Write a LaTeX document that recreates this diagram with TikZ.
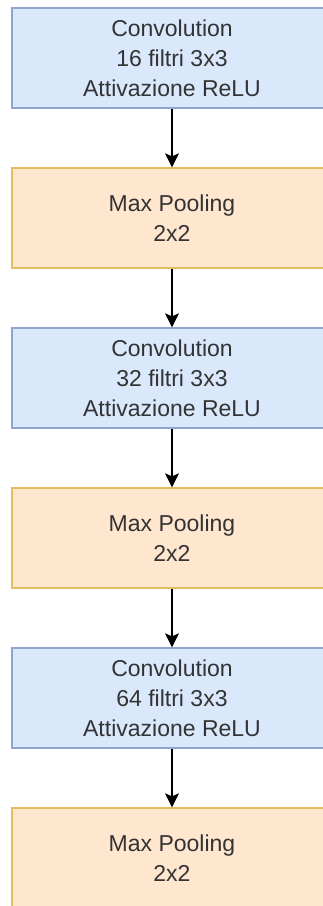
\documentclass[tikz,border=0pt]{standalone}
\usepackage{fontspec}
\setmainfont{Liberation Sans}
\usepackage{xcolor}
\usetikzlibrary{arrows.meta, positioning}

\definecolor{convfill}{HTML}{DAE8FC}
\definecolor{convline}{HTML}{8DA6CE}
\definecolor{poolfill}{HTML}{FFE6CF}
\definecolor{poolline}{HTML}{E3BC5E}
\definecolor{textgray}{HTML}{333333}

\begin{document}
\begin{tikzpicture}[x=1pt, y=1pt,
		block/.style={rectangle, minimum width=320pt, minimum height=100pt, inner sep=2pt,
			line width=1.3pt, align=center, text=textgray, font=\fontsize{23}{30}\selectfont},
		conv/.style={block, draw=convline, fill=convfill},
		pool/.style={block, draw=poolline, fill=poolfill},
		arrow/.style={-{Stealth[length=14pt, width=14pt, inset=3pt]}, line width=1.5pt, black}]
			% Fix the page size
			\useasboundingbox (0,0) rectangle (323,-906);
			
			% Layers of the network (top to bottom)
			\node[conv] (conv1) at (172,-58) {Convolution\\16 filtri 3x3\\Attivazione ReLU};
			\node[pool] (pool1) at (172,-218) {Max Pooling\\2x2};
			\node[conv] (conv2) at (172,-378) {Convolution\\32 filtri 3x3\\Attivazione ReLU};
			\node[pool] (pool2) at (172,-538) {Max Pooling\\2x2};
			\node[conv] (conv3) at (172,-698) {Convolution\\64 filtri 3x3\\Attivazione ReLU};
			\node[pool] (pool3) at (172,-858) {Max Pooling\\2x2};
			
			% Connect the layers
			\foreach \a/\b in {conv1/pool1, pool1/conv2, conv2/pool2, pool2/conv3, conv3/pool3}
				\draw[arrow] (\a) -- (\b);
			
		\end{tikzpicture}
\end{document}
